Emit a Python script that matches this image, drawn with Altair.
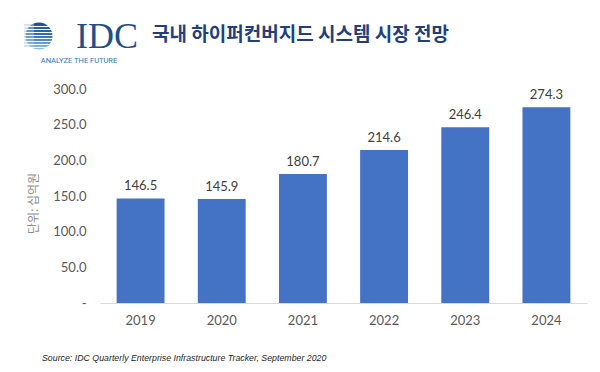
import altair as alt
import pandas as pd

years = ["2019", "2020", "2021", "2022", "2023", "2024"]
values = [146.5, 145.9, 180.7, 214.6, 246.4, 274.3]
y_ticks = [0, 50, 100, 150, 200, 250, 300]

title_text = "국내 하이퍼컨버지드 시스템 시장 전망"
y_title = "단위: 십억원"
source_text = "Source: IDC Quarterly Enterprise Infrastructure Tracker, September 2020"
logo_text = "IDC"
logo_tag = "ANALYZE THE FUTURE"

df = pd.DataFrame({"year": years, "value": values})
one = pd.DataFrame({"k": [0]})

NBSP = "\u00a0"
x = alt.X("year:N", sort=years, title=None,
          scale=alt.Scale(paddingInner=0.41, paddingOuter=0.205),
          axis=alt.Axis(labelFont="Lato", labelFontSize=13, labelColor="#595959",
                        labelPadding=11, ticks=False, domainColor="#D9D9D9",
                        domainWidth=1, labelAngle=0))
y = alt.Y("value:Q", title=y_title,
          scale=alt.Scale(domain=[0, 300], nice=False),
          axis=alt.Axis(values=y_ticks, grid=False, domain=False, ticks=False,
                        labelFont="Lato", labelFontSize=13, labelColor="#595959",
                        labelPadding=14, labelOverlap=False, labelSeparation=0,
                        labelExpr=f"datum.value == 0 ? '-{NBSP*4}' : format(datum.value, '.1f')",
                        titleFont="Noto Sans CJK KR", titleFontSize=12,
                        titleFontWeight="normal", titleColor="#8C8C8C",
                        titleAngle=270, titleX=-67, titleY=114,
                        titleAlign="center", titleBaseline="middle"))

base = alt.Chart(df)
bars = base.mark_bar(color="#4472C4").encode(x=x, y=y)
labels = base.mark_text(baseline="bottom", dy=-5, font="Lato", fontSize=13,
                        color="#404040").encode(
    x=x, y=y, text=alt.Text("value:Q", format=".1f"))

deco = alt.Chart(one)
title = deco.mark_text(text=title_text, font="Noto Sans CJK KR", fontSize=19,
                       fontWeight="bold", color="#23407A", align="left",
                       baseline="middle").encode(x=alt.value(52), y=alt.value(-54))
idc = deco.mark_text(text=logo_text, font="Liberation Serif", fontSize=36,
                     color="#1F4E8C", align="left",
                     baseline="alphabetic").encode(x=alt.value(-24), y=alt.value(-41))
tag = deco.mark_text(text=logo_tag, font="Roboto", fontSize=7.5,
                     color="#2E75B6", align="center",
                     baseline="middle").encode(x=alt.value(-21), y=alt.value(-28))
globe = deco.mark_point(shape="circle", filled=True, size=729, opacity=1,
                        color=alt.Gradient(gradient="linear",
                                           stops=[alt.GradientStop(color="#1F4E8C", offset=0),
                                                  alt.GradientStop(color="#2E75B6", offset=0.5),
                                                  alt.GradientStop(color="#9DC3E6", offset=1)],
                                           x1=0, x2=0, y1=0, y2=1)).encode(
    x=alt.value(-61), y=alt.value(-53))

stripe_rows = [-64, -61, -58, -55, -52, -49, -46, -43]
stripes = []
for r in stripe_rows:
    stripes.append(deco.mark_rule(color="white", strokeWidth=1).encode(
        x=alt.value(-76), x2=alt.value(-46), y=alt.value(r + 1.5)))
    stripes.append(deco.mark_rule(color="#A9C4E0", strokeWidth=1).encode(
        x=alt.value(-76), x2=alt.value(-66), y=alt.value(r)))

source = deco.mark_text(text=source_text, font="Liberation Sans", fontSize=8.8,
                        fontStyle="italic", color="#262626", align="left",
                        baseline="middle").encode(x=alt.value(-58), y=alt.value(269))

chart = alt.layer(bars, labels, globe, *stripes, idc, tag, title, source).properties(
    width=487, height=214, background="white",
    autosize=alt.AutoSizeParams(type="none"),
    padding={"left": 92, "top": 81, "right": 5, "bottom": 60},
).configure_view(stroke=None)

chart.save("out.html", embed_options={"renderer": "svg", "actions": False})
